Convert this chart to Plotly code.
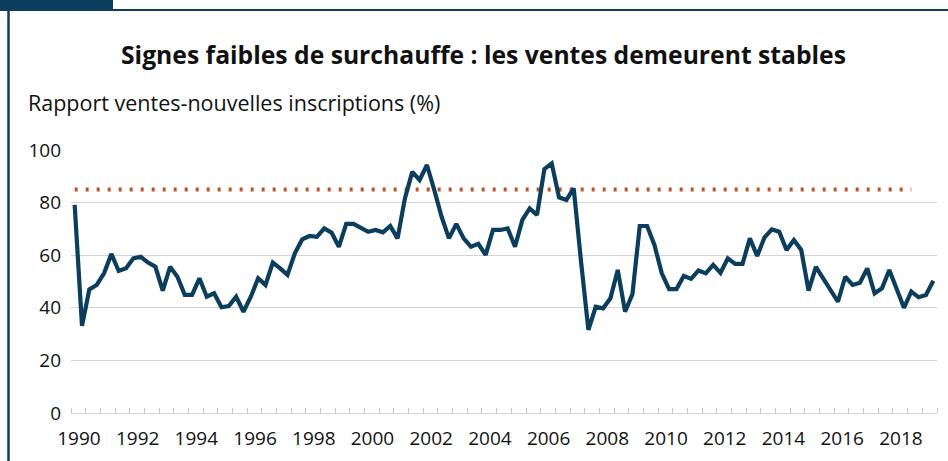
import plotly.graph_objects as go

# --- Data -------------------------------------------------------------
years = list(range(1990, 2020))
ratio = [
    79.1, 33.1, 47.0, 48.7, 53.1, 60.5, 54.0, 55.0,   # 1990-1991
    58.8, 59.4, 57.2, 55.6, 46.5, 55.6, 51.8, 44.9,   # 1992-1993
    44.9, 51.2, 44.2, 45.5, 40.2, 40.7, 44.2, 38.5,   # 1994-1995
    44.2, 51.2, 48.7, 57.2, 55.0, 52.5, 60.7, 66.0,   # 1996-1997
    67.3, 67.0, 70.2, 68.6, 63.2, 71.9, 71.9, 70.2,   # 1998-1999
    68.9, 69.6, 68.7, 71.1, 66.4, 81.6, 91.7, 88.6,   # 2000-2001
    94.3, 84.8, 74.6, 66.4, 71.9, 66.4, 63.2, 64.3,   # 2002-2003
    60.1, 69.6, 69.6, 70.2, 63.2, 73.4, 77.8, 75.3,   # 2004-2005
    92.7, 94.9, 82.0, 81.0, 85.4, 57.5, 31.6, 40.4,   # 2006-2007
    39.8, 43.6, 54.4, 38.5, 45.2, 71.1, 71.1, 63.9,   # 2008-2009
    53.1, 47.1, 47.1, 52.1, 51.0, 54.2, 53.1, 56.3,   # 2010-2011
    53.3, 58.8, 56.7, 56.7, 66.4, 59.7, 66.8, 69.8,   # 2012-2013
    68.9, 62.0, 65.8, 62.0, 46.5, 55.6, 51.2, 46.8,   # 2014-2015
    42.3, 51.8, 48.7, 49.5, 55.0, 45.5, 47.4, 54.4,   # 2016-2017
    47.0, 40.0, 46.2, 44.0, 44.9, 50.3,               # 2018-2019T2
]
quarters = [y + q / 4 for y in years for q in range(4)][: len(ratio)]
threshold = 85
threshold_x = [quarters[0], quarters[114]]
label_years = list(range(1990, 2020, 2))

NAVY = "#0B3D5C"
RUST = "#C0522B"
FONT = "'Open Sans', Lato, sans-serif"
TXT = "#111111"

fig = go.Figure()
fig.add_trace(go.Scatter(
    x=threshold_x, y=[threshold, threshold], mode="lines",
    line=dict(color=RUST, width=4, dash="3px,8px"), hoverinfo="skip",
))
fig.add_trace(go.Scatter(
    x=quarters, y=ratio, mode="lines",
    line=dict(color=NAVY, width=4.2), hoverinfo="skip",
))

fig.update_layout(
    width=948, height=461,
    margin=dict(l=71, r=11, t=150, b=48),
    paper_bgcolor="white", plot_bgcolor="white",
    showlegend=False,
    font=dict(family=FONT, color=TXT, size=19),
    xaxis=dict(
        range=[1989.875, 2019.375],
        tickvals=[y + 0.145 for y in label_years],
        ticktext=[str(y) for y in label_years],
        ticks="", showgrid=False, zeroline=False,
        showline=True, linecolor="#D4D4D4", linewidth=1.3,
        tickfont=dict(size=19, color=TXT),
        ticklabelstandoff=8,
        minor=dict(ticks="inside", tick0=1989.875, dtick=0.5,
                   ticklen=5, tickcolor="#C8C8C8", tickwidth=1, showgrid=False),
    ),
    yaxis=dict(
        range=[0, 100], tickvals=[0, 20, 40, 60, 80, 100],
        showgrid=True, gridcolor="#D4D4D4", gridwidth=1.3,
        zeroline=False, showline=False, ticks="",
        tickfont=dict(size=19, color=TXT),
        ticklabelstandoff=9,
    ),
    shapes=[
        dict(type="rect", xref="paper", yref="paper",
             x0=(0 - 71) / 866, x1=(113 - 71) / 866,
             y0=(413 - 10) / 263, y1=(413 + 2) / 263 + 1,
             fillcolor=NAVY, line=dict(width=0), layer="above"),
        dict(type="line", xref="paper", yref="paper",
             x0=(0 - 71) / 866, x1=(948 - 71) / 866,
             y0=(413 - 10) / 263, y1=(413 - 10) / 263,
             line=dict(color=NAVY, width=2)),
        dict(type="line", xref="paper", yref="paper",
             x0=(8.5 - 71) / 866, x1=(8.5 - 71) / 866,
             y0=(413 - 0) / 263, y1=(413 - 470) / 263,
             line=dict(color=NAVY, width=2.5)),
    ],
    annotations=[
        dict(text="<b>Signes faibles de surchauffe : les ventes demeurent stables</b>",
             xref="paper", yref="paper", x=(483 - 71) / 866, y=(413 - 55) / 263,
             xanchor="center", yanchor="middle", showarrow=False,
             font=dict(size=24.7, color=TXT, family=FONT)),
        dict(text="Rapport ventes-nouvelles inscriptions (%)",
             xref="paper", yref="paper", x=(26 - 71) / 866, y=(413 - 103) / 263,
             xanchor="left", yanchor="middle", showarrow=False,
             font=dict(size=21.5, color=TXT, family=FONT)),
    ],
)

fig.write_html("out.html", config={"displayModeBar": False},
               post_script="document.body.style.margin='0';")
